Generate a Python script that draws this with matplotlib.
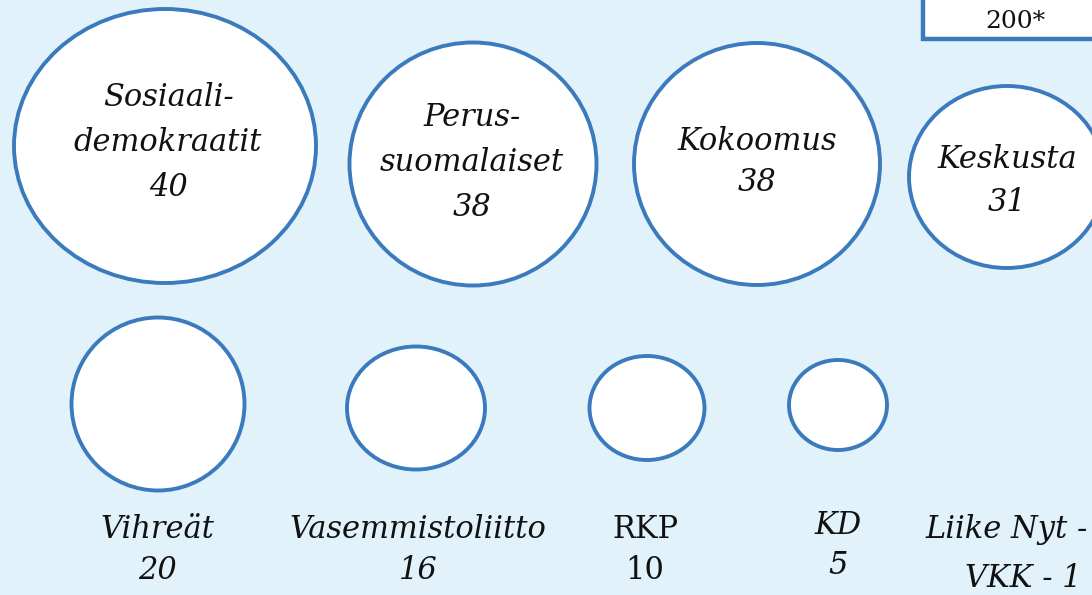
import matplotlib.pyplot as plt
from matplotlib.patches import Ellipse, Rectangle

# Seats per party
parties = ["Sosiaali-\ndemokraatit", "Perus-\nsuomalaiset", "Kokoomus", "Keskusta",
           "Vihreät", "Vasemmistoliitto", "RKP", "KD", "Liike Nyt -"]
seats = [40, 38, 38, 31, 20, 16, 10, 5, 1]
total_label = "200*"

# Layout in pixel coords: bubble centre x, y and width, height
bubbles = [(165, 146, 302, 274), (473, 164, 247, 243), (757, 164, 246, 242),
           (1007, 177, 196, 182), (158, 404, 173, 173), (416, 408, 138, 123),
           (647, 408, 115, 104), (838, 405, 98, 90)]
# label anchor: centre x and baseline y of the first line
label_pos = [(168, 106), (472, 126), (757, 150), (1007, 168), (157, 538),
             (418, 538), (645, 538), (838, 534), (1007, 538)]
line_gap = [45, 45, 41, 43, 41, 41, 41, 40, 49]

BG = "#e1f2fa"
EDGE = "#3a7abd"

fig = plt.figure(figsize=(10.92, 5.95), dpi=100, facecolor=BG)
ax = fig.add_axes([0, 0, 1, 1])
ax.set_xlim(0, 1092)
ax.set_ylim(595, 0)
ax.set_facecolor(BG)
ax.axis("off")

for (cx, cy, w, h) in bubbles:
    ax.add_patch(Ellipse((cx, cy), w, h, facecolor="white", edgecolor=EDGE, lw=2.8))

font = dict(family="DejaVu Serif", fontsize=22, color="#111111", ha="center", va="baseline")
for i, (name, n) in enumerate(zip(parties, seats)):
    x, y = label_pos[i]
    style = "normal" if name == "RKP" else "italic"
    if name == "Liike Nyt -":
        ax.text(x, y, name, style=style, **font)
        ax.text(x + 16, y + line_gap[i], f"VKK - {n}", style=style, **font)
        continue
    lines = name.split("\n") + [str(n)]
    for k, line in enumerate(lines):
        ax.text(x, y + k * line_gap[i], line, style=style, **font)

# total seats box, partly off the top-right corner
ax.add_patch(Rectangle((923, -10), 200, 49, facecolor="white", edgecolor=EDGE, lw=3.2))
ax.text(1015, 28, total_label, family="DejaVu Serif", fontsize=18, color="#111111",
        ha="center", va="baseline")

fig.savefig("out.png", dpi=100, facecolor=BG)
